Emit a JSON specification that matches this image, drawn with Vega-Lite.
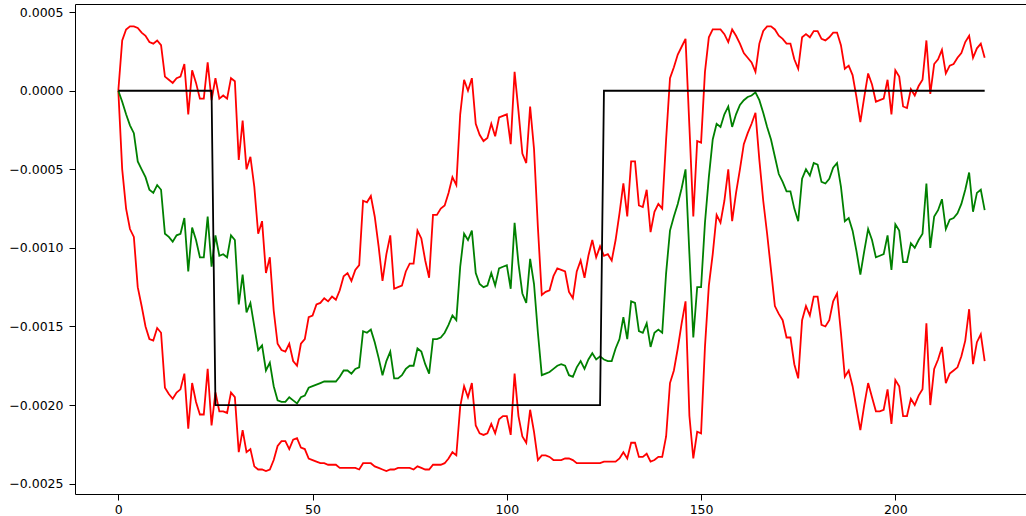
{
"$schema": "https://vega.github.io/schema/vega-lite/v6.json",
"width": 953, "height": 490,
"autosize": "none",
"padding": {"left": 75, "top": 4, "right": 0, "bottom": 22},
"background": "white",
"config": {"view": {"stroke": "#000000", "strokeWidth": 1}, "axis": {"grid": false, "domain": false, "tickColor": "#000000", "tickSize": 6, "tickWidth": 1, "labelFont": "DejaVu Sans", "labelFontSize": 12.5, "labelColor": "#000000", "title": null}},
"data": {"values": [
{"x":0,"t":0,"m":0,"u":0,"l":0},
{"x":1,"t":0,"m":-0.00007,"u":0.00032,"l":-0.0005},
{"x":2,"t":0,"m":-0.00015,"u":0.00039,"l":-0.00075},
{"x":3,"t":0,"m":-0.00022,"u":0.00041,"l":-0.00088},
{"x":4,"t":0,"m":-0.00027,"u":0.00041,"l":-0.00093},
{"x":5,"t":0,"m":-0.00045,"u":0.0004,"l":-0.00125},
{"x":6,"t":0,"m":-0.0005,"u":0.00037,"l":-0.00137},
{"x":7,"t":0,"m":-0.00055,"u":0.00035,"l":-0.0015},
{"x":8,"t":0,"m":-0.00063,"u":0.00031,"l":-0.00158},
{"x":9,"t":0,"m":-0.00065,"u":0.0003,"l":-0.00159},
{"x":10,"t":0,"m":-0.0006,"u":0.00032,"l":-0.00151},
{"x":11,"t":0,"m":-0.00063,"u":0.00029,"l":-0.00154},
{"x":12,"t":0,"m":-0.00091,"u":0.00009,"l":-0.00189},
{"x":13,"t":0,"m":-0.00093,"u":0.00007,"l":-0.00193},
{"x":14,"t":0,"m":-0.00096,"u":0.00005,"l":-0.00196},
{"x":15,"t":0,"m":-0.00092,"u":0.00008,"l":-0.00192},
{"x":16,"t":0,"m":-0.00091,"u":0.00009,"l":-0.0019},
{"x":17,"t":0,"m":-0.00081,"u":0.00017,"l":-0.0018},
{"x":18,"t":0,"m":-0.00115,"u":-0.00015,"l":-0.00215},
{"x":19,"t":0,"m":-0.00087,"u":0.00013,"l":-0.00186},
{"x":20,"t":0,"m":-0.00095,"u":0.00005,"l":-0.00198},
{"x":21,"t":0,"m":-0.00106,"u":-0.00005,"l":-0.00206},
{"x":22,"t":0,"m":-0.00106,"u":-0.00005,"l":-0.00206},
{"x":23,"t":0,"m":-0.0008,"u":0.00018,"l":-0.00177},
{"x":24,"t":0,"m":-0.00112,"u":-0.00006,"l":-0.00213},
{"x":25,"t":-0.002,"m":-0.00092,"u":0.00008,"l":-0.00192},
{"x":26,"t":-0.002,"m":-0.00105,"u":-0.00005,"l":-0.00204},
{"x":27,"t":-0.002,"m":-0.00104,"u":-0.00003,"l":-0.00204},
{"x":28,"t":-0.002,"m":-0.00106,"u":-0.00005,"l":-0.00205},
{"x":29,"t":-0.002,"m":-0.00092,"u":0.00008,"l":-0.00192},
{"x":30,"t":-0.002,"m":-0.00095,"u":0.00006,"l":-0.00195},
{"x":31,"t":-0.002,"m":-0.00136,"u":-0.00044,"l":-0.0023},
{"x":32,"t":-0.002,"m":-0.00117,"u":-0.00019,"l":-0.00216},
{"x":33,"t":-0.002,"m":-0.00141,"u":-0.0005,"l":-0.0023},
{"x":34,"t":-0.002,"m":-0.00135,"u":-0.00042,"l":-0.00228},
{"x":35,"t":-0.002,"m":-0.0015,"u":-0.00061,"l":-0.00239},
{"x":36,"t":-0.002,"m":-0.00165,"u":-0.00091,"l":-0.00241},
{"x":37,"t":-0.002,"m":-0.00162,"u":-0.00083,"l":-0.00241},
{"x":38,"t":-0.002,"m":-0.00178,"u":-0.00116,"l":-0.00242},
{"x":39,"t":-0.002,"m":-0.00173,"u":-0.00106,"l":-0.00241},
{"x":40,"t":-0.002,"m":-0.00188,"u":-0.0014,"l":-0.00235},
{"x":41,"t":-0.002,"m":-0.00197,"u":-0.00161,"l":-0.00226},
{"x":42,"t":-0.002,"m":-0.00198,"u":-0.00165,"l":-0.00223},
{"x":43,"t":-0.002,"m":-0.00198,"u":-0.00166,"l":-0.00223},
{"x":44,"t":-0.002,"m":-0.00195,"u":-0.00161,"l":-0.00228},
{"x":45,"t":-0.002,"m":-0.00197,"u":-0.00172,"l":-0.00222},
{"x":46,"t":-0.002,"m":-0.00199,"u":-0.00175,"l":-0.00221},
{"x":47,"t":-0.002,"m":-0.00195,"u":-0.00161,"l":-0.00227},
{"x":48,"t":-0.002,"m":-0.00194,"u":-0.00158,"l":-0.00228},
{"x":49,"t":-0.002,"m":-0.00189,"u":-0.00144,"l":-0.00234},
{"x":50,"t":-0.002,"m":-0.00188,"u":-0.00143,"l":-0.00235},
{"x":51,"t":-0.002,"m":-0.00187,"u":-0.00136,"l":-0.00236},
{"x":52,"t":-0.002,"m":-0.00186,"u":-0.00135,"l":-0.00237},
{"x":53,"t":-0.002,"m":-0.00185,"u":-0.00132,"l":-0.00237},
{"x":54,"t":-0.002,"m":-0.00185,"u":-0.00134,"l":-0.00238},
{"x":55,"t":-0.002,"m":-0.00185,"u":-0.00131,"l":-0.00238},
{"x":56,"t":-0.002,"m":-0.00185,"u":-0.00133,"l":-0.00238},
{"x":57,"t":-0.002,"m":-0.00182,"u":-0.00127,"l":-0.0024},
{"x":58,"t":-0.002,"m":-0.00178,"u":-0.00118,"l":-0.0024},
{"x":59,"t":-0.002,"m":-0.00178,"u":-0.00116,"l":-0.0024},
{"x":60,"t":-0.002,"m":-0.0018,"u":-0.00121,"l":-0.0024},
{"x":61,"t":-0.002,"m":-0.00177,"u":-0.00114,"l":-0.0024},
{"x":62,"t":-0.002,"m":-0.00176,"u":-0.00111,"l":-0.00241},
{"x":63,"t":-0.002,"m":-0.00153,"u":-0.0007,"l":-0.00237},
{"x":64,"t":-0.002,"m":-0.00154,"u":-0.00071,"l":-0.00237},
{"x":65,"t":-0.002,"m":-0.00152,"u":-0.00067,"l":-0.00237},
{"x":66,"t":-0.002,"m":-0.0016,"u":-0.0008,"l":-0.00239},
{"x":67,"t":-0.002,"m":-0.0017,"u":-0.00099,"l":-0.0024},
{"x":68,"t":-0.002,"m":-0.00181,"u":-0.00121,"l":-0.00241},
{"x":69,"t":-0.002,"m":-0.00172,"u":-0.00104,"l":-0.00242},
{"x":70,"t":-0.002,"m":-0.00166,"u":-0.00092,"l":-0.00241},
{"x":71,"t":-0.002,"m":-0.00183,"u":-0.00126,"l":-0.00241},
{"x":72,"t":-0.002,"m":-0.00183,"u":-0.00125,"l":-0.0024},
{"x":73,"t":-0.002,"m":-0.00181,"u":-0.00124,"l":-0.0024},
{"x":74,"t":-0.002,"m":-0.00177,"u":-0.00115,"l":-0.0024},
{"x":75,"t":-0.002,"m":-0.00175,"u":-0.0011,"l":-0.0024},
{"x":76,"t":-0.002,"m":-0.00175,"u":-0.0011,"l":-0.00241},
{"x":77,"t":-0.002,"m":-0.00164,"u":-0.00089,"l":-0.00239},
{"x":78,"t":-0.002,"m":-0.00166,"u":-0.00094,"l":-0.0024},
{"x":79,"t":-0.002,"m":-0.00174,"u":-0.00108,"l":-0.00241},
{"x":80,"t":-0.002,"m":-0.0018,"u":-0.00119,"l":-0.00241},
{"x":81,"t":-0.002,"m":-0.00158,"u":-0.00079,"l":-0.00238},
{"x":82,"t":-0.002,"m":-0.00158,"u":-0.00079,"l":-0.00238},
{"x":83,"t":-0.002,"m":-0.00157,"u":-0.00075,"l":-0.00238},
{"x":84,"t":-0.002,"m":-0.00154,"u":-0.00073,"l":-0.00237},
{"x":85,"t":-0.002,"m":-0.00149,"u":-0.00065,"l":-0.00234},
{"x":86,"t":-0.002,"m":-0.00143,"u":-0.00055,"l":-0.0023},
{"x":87,"t":-0.002,"m":-0.00146,"u":-0.0006,"l":-0.00232},
{"x":88,"t":-0.002,"m":-0.00112,"u":-0.00015,"l":-0.00201},
{"x":89,"t":-0.002,"m":-0.00091,"u":0.00007,"l":-0.00188},
{"x":90,"t":-0.002,"m":-0.00095,"u":0,"l":-0.00195},
{"x":91,"t":-0.002,"m":-0.00089,"u":0.00008,"l":-0.00186},
{"x":92,"t":-0.002,"m":-0.00116,"u":-0.00021,"l":-0.00213},
{"x":93,"t":-0.002,"m":-0.00123,"u":-0.00028,"l":-0.00218},
{"x":94,"t":-0.002,"m":-0.00125,"u":-0.00032,"l":-0.00219},
{"x":95,"t":-0.002,"m":-0.00124,"u":-0.0003,"l":-0.00218},
{"x":96,"t":-0.002,"m":-0.00116,"u":-0.00021,"l":-0.00212},
{"x":97,"t":-0.002,"m":-0.00124,"u":-0.00029,"l":-0.00218},
{"x":98,"t":-0.002,"m":-0.00113,"u":-0.00017,"l":-0.00209},
{"x":99,"t":-0.002,"m":-0.00112,"u":-0.00016,"l":-0.00207},
{"x":100,"t":-0.002,"m":-0.00111,"u":-0.00015,"l":-0.00207},
{"x":101,"t":-0.002,"m":-0.00126,"u":-0.00034,"l":-0.00219},
{"x":102,"t":-0.002,"m":-0.00084,"u":0.00012,"l":-0.0018},
{"x":103,"t":-0.002,"m":-0.0011,"u":-0.00013,"l":-0.00207},
{"x":104,"t":-0.002,"m":-0.00129,"u":-0.0004,"l":-0.0022},
{"x":105,"t":-0.002,"m":-0.00135,"u":-0.00046,"l":-0.00224},
{"x":106,"t":-0.002,"m":-0.00107,"u":-0.0001,"l":-0.00203},
{"x":107,"t":-0.002,"m":-0.00123,"u":-0.00037,"l":-0.00217},
{"x":108,"t":-0.002,"m":-0.00154,"u":-0.00087,"l":-0.00235},
{"x":109,"t":-0.002,"m":-0.00181,"u":-0.0013,"l":-0.00232},
{"x":110,"t":-0.002,"m":-0.0018,"u":-0.00128,"l":-0.00232},
{"x":111,"t":-0.002,"m":-0.00179,"u":-0.00127,"l":-0.00233},
{"x":112,"t":-0.002,"m":-0.00177,"u":-0.00118,"l":-0.00235},
{"x":113,"t":-0.002,"m":-0.00175,"u":-0.00113,"l":-0.00235},
{"x":114,"t":-0.002,"m":-0.00174,"u":-0.00114,"l":-0.00235},
{"x":115,"t":-0.002,"m":-0.00175,"u":-0.00115,"l":-0.00234},
{"x":116,"t":-0.002,"m":-0.00181,"u":-0.00128,"l":-0.00234},
{"x":117,"t":-0.002,"m":-0.00182,"u":-0.00132,"l":-0.00235},
{"x":118,"t":-0.002,"m":-0.00176,"u":-0.00115,"l":-0.00237},
{"x":119,"t":-0.002,"m":-0.00172,"u":-0.00108,"l":-0.00237},
{"x":120,"t":-0.002,"m":-0.00177,"u":-0.00119,"l":-0.00237},
{"x":121,"t":-0.002,"m":-0.00171,"u":-0.00105,"l":-0.00237},
{"x":122,"t":-0.002,"m":-0.00167,"u":-0.00095,"l":-0.00237},
{"x":123,"t":-0.002,"m":-0.00171,"u":-0.00106,"l":-0.00237},
{"x":124,"t":-0.002,"m":-0.00169,"u":-0.00099,"l":-0.00237},
{"x":125,"t":0,"m":-0.00171,"u":-0.00105,"l":-0.00236},
{"x":126,"t":0,"m":-0.00172,"u":-0.00104,"l":-0.00236},
{"x":127,"t":0,"m":-0.00172,"u":-0.00108,"l":-0.00236},
{"x":128,"t":0,"m":-0.00164,"u":-0.00095,"l":-0.00236},
{"x":129,"t":0,"m":-0.00158,"u":-0.00078,"l":-0.00234},
{"x":130,"t":0,"m":-0.00144,"u":-0.00059,"l":-0.0023},
{"x":131,"t":0,"m":-0.00158,"u":-0.0008,"l":-0.00234},
{"x":132,"t":0,"m":-0.00134,"u":-0.00045,"l":-0.00224},
{"x":133,"t":0,"m":-0.00135,"u":-0.00045,"l":-0.00224},
{"x":134,"t":0,"m":-0.00153,"u":-0.00073,"l":-0.00233},
{"x":135,"t":0,"m":-0.00154,"u":-0.00074,"l":-0.00233},
{"x":136,"t":0,"m":-0.00148,"u":-0.00063,"l":-0.00231},
{"x":137,"t":0,"m":-0.00163,"u":-0.0009,"l":-0.00236},
{"x":138,"t":0,"m":-0.00154,"u":-0.00077,"l":-0.00235},
{"x":139,"t":0,"m":-0.00152,"u":-0.00072,"l":-0.00233},
{"x":140,"t":0,"m":-0.00154,"u":-0.00075,"l":-0.00233},
{"x":141,"t":0,"m":-0.00116,"u":-0.00031,"l":-0.0022},
{"x":142,"t":0,"m":-0.00089,"u":0.00008,"l":-0.00186},
{"x":143,"t":0,"m":-0.0008,"u":0.00015,"l":-0.00178},
{"x":144,"t":0,"m":-0.00072,"u":0.00023,"l":-0.00164},
{"x":145,"t":0,"m":-0.00062,"u":0.00028,"l":-0.00148},
{"x":146,"t":0,"m":-0.0005,"u":0.00033,"l":-0.00134},
{"x":147,"t":0,"m":-0.00104,"u":-0.00023,"l":-0.00207},
{"x":148,"t":0,"m":-0.00157,"u":-0.0008,"l":-0.00234},
{"x":149,"t":0,"m":-0.00125,"u":-0.00032,"l":-0.00217},
{"x":150,"t":0,"m":-0.00125,"u":-0.00033,"l":-0.00218},
{"x":151,"t":0,"m":-0.00084,"u":0.00012,"l":-0.00163},
{"x":152,"t":0,"m":-0.00055,"u":0.00034,"l":-0.00124},
{"x":153,"t":0,"m":-0.00031,"u":0.00039,"l":-0.00104},
{"x":154,"t":0,"m":-0.00021,"u":0.00039,"l":-0.00079},
{"x":155,"t":0,"m":-0.00023,"u":0.00039,"l":-0.00084},
{"x":156,"t":0,"m":-0.00015,"u":0.00036,"l":-0.0007},
{"x":157,"t":0,"m":-0.0001,"u":0.00031,"l":-0.0005},
{"x":158,"t":0,"m":-0.00023,"u":0.00039,"l":-0.00083},
{"x":159,"t":0,"m":-0.00015,"u":0.00035,"l":-0.00065},
{"x":160,"t":0,"m":-0.00009,"u":0.0003,"l":-0.0005},
{"x":161,"t":0,"m":-0.00006,"u":0.00024,"l":-0.00034},
{"x":162,"t":0,"m":-0.00004,"u":0.00021,"l":-0.00027},
{"x":163,"t":0,"m":-0.00003,"u":0.00018,"l":-0.00021},
{"x":164,"t":0,"m":-0.00001,"u":0.00012,"l":-0.00014},
{"x":165,"t":0,"m":-0.00006,"u":0.0003,"l":-0.00044},
{"x":166,"t":0,"m":-0.00014,"u":0.00038,"l":-0.0007},
{"x":167,"t":0,"m":-0.00023,"u":0.00041,"l":-0.00091},
{"x":168,"t":0,"m":-0.00031,"u":0.00041,"l":-0.00114},
{"x":169,"t":0,"m":-0.00042,"u":0.00039,"l":-0.00137},
{"x":170,"t":0,"m":-0.00053,"u":0.00035,"l":-0.00142},
{"x":171,"t":0,"m":-0.00058,"u":0.00033,"l":-0.00146},
{"x":172,"t":0,"m":-0.00064,"u":0.0003,"l":-0.00157},
{"x":173,"t":0,"m":-0.00064,"u":0.0003,"l":-0.00157},
{"x":174,"t":0,"m":-0.00075,"u":0.0002,"l":-0.00174},
{"x":175,"t":0,"m":-0.00083,"u":0.00014,"l":-0.00183},
{"x":176,"t":0,"m":-0.00056,"u":0.00034,"l":-0.00146},
{"x":177,"t":0,"m":-0.0005,"u":0.00036,"l":-0.00137},
{"x":178,"t":0,"m":-0.00054,"u":0.00034,"l":-0.00143},
{"x":179,"t":0,"m":-0.00046,"u":0.00038,"l":-0.00131},
{"x":180,"t":0,"m":-0.00047,"u":0.00038,"l":-0.00131},
{"x":181,"t":0,"m":-0.00058,"u":0.00033,"l":-0.00149},
{"x":182,"t":0,"m":-0.00059,"u":0.00032,"l":-0.0015},
{"x":183,"t":0,"m":-0.00056,"u":0.00034,"l":-0.00146},
{"x":184,"t":0,"m":-0.00049,"u":0.00037,"l":-0.00134},
{"x":185,"t":0,"m":-0.00046,"u":0.00037,"l":-0.00129},
{"x":186,"t":0,"m":-0.00061,"u":0.00029,"l":-0.00154},
{"x":187,"t":0,"m":-0.00083,"u":0.00014,"l":-0.00182},
{"x":188,"t":0,"m":-0.00081,"u":0.00016,"l":-0.00178},
{"x":189,"t":0,"m":-0.00089,"u":0.0001,"l":-0.00188},
{"x":190,"t":0,"m":-0.00102,"u":-0.00004,"l":-0.00202},
{"x":191,"t":0,"m":-0.00117,"u":-0.0002,"l":-0.00216},
{"x":192,"t":0,"m":-0.00102,"u":-0.00004,"l":-0.002},
{"x":193,"t":0,"m":-0.00088,"u":0.00011,"l":-0.00186},
{"x":194,"t":0,"m":-0.00095,"u":0.00004,"l":-0.00195},
{"x":195,"t":0,"m":-0.00106,"u":-0.00007,"l":-0.00204},
{"x":196,"t":0,"m":-0.00105,"u":-0.00006,"l":-0.00204},
{"x":197,"t":0,"m":-0.00104,"u":-0.00005,"l":-0.00203},
{"x":198,"t":0,"m":-0.00092,"u":0.00007,"l":-0.0019},
{"x":199,"t":0,"m":-0.00114,"u":-0.00015,"l":-0.00212},
{"x":200,"t":0,"m":-0.00085,"u":0.00013,"l":-0.00184},
{"x":201,"t":0,"m":-0.00089,"u":0.00009,"l":-0.00188},
{"x":202,"t":0,"m":-0.00109,"u":-0.0001,"l":-0.00207},
{"x":203,"t":0,"m":-0.00109,"u":-0.00011,"l":-0.00207},
{"x":204,"t":0,"m":-0.00097,"u":0.00001,"l":-0.00196},
{"x":205,"t":0,"m":-0.001,"u":-0.00003,"l":-0.002},
{"x":206,"t":0,"m":-0.00095,"u":0.00003,"l":-0.00194},
{"x":207,"t":0,"m":-0.00091,"u":0.00007,"l":-0.0019},
{"x":208,"t":0,"m":-0.00059,"u":0.00032,"l":-0.00148},
{"x":209,"t":0,"m":-0.001,"u":-0.00002,"l":-0.002},
{"x":210,"t":0,"m":-0.0008,"u":0.00017,"l":-0.00177},
{"x":211,"t":0,"m":-0.00076,"u":0.0002,"l":-0.00171},
{"x":212,"t":0,"m":-0.00069,"u":0.00026,"l":-0.00163},
{"x":213,"t":0,"m":-0.00088,"u":0.00011,"l":-0.00186},
{"x":214,"t":0,"m":-0.00082,"u":0.00016,"l":-0.0018},
{"x":215,"t":0,"m":-0.00081,"u":0.00017,"l":-0.00178},
{"x":216,"t":0,"m":-0.00078,"u":0.00021,"l":-0.00176},
{"x":217,"t":0,"m":-0.00072,"u":0.00024,"l":-0.00169},
{"x":218,"t":0,"m":-0.00063,"u":0.00031,"l":-0.00159},
{"x":219,"t":0,"m":-0.00052,"u":0.00035,"l":-0.00139},
{"x":220,"t":0,"m":-0.00077,"u":0.00021,"l":-0.00174},
{"x":221,"t":0,"m":-0.00065,"u":0.00027,"l":-0.0016},
{"x":222,"t":0,"m":-0.00063,"u":0.0003,"l":-0.00155},
{"x":223,"t":0,"m":-0.00076,"u":0.00021,"l":-0.00172}
]},
"encoding": {
  "x": {"field": "x", "type": "quantitative", "scale": {"domain": [-11.15, 234.15], "nice": false, "zero": false}, "axis": {"values": [0, 50, 100, 150, 200], "format": "d", "labelPadding": 3}}
},
"layer": [
  {"mark": {"type": "line", "color": "#ff0000", "strokeWidth": 1.8}, "encoding": {"y": {"field": "u", "type": "quantitative", "scale": {"domain": [-0.002566, 0.000552], "nice": false, "zero": false}, "axis": {"values": [0.0005, 0, -0.0005, -0.001, -0.0015, -0.002, -0.0025], "labelPadding": 6, "labelExpr": "(datum.value < -0.00000001 ? '\u2212' : '') + format(abs(datum.value), '.4f')"}}}},
  {"mark": {"type": "line", "color": "#ff0000", "strokeWidth": 1.8}, "encoding": {"y": {"field": "l", "type": "quantitative"}}},
  {"mark": {"type": "line", "color": "#008000", "strokeWidth": 1.8}, "encoding": {"y": {"field": "m", "type": "quantitative"}}},
  {"mark": {"type": "line", "color": "#000000", "strokeWidth": 1.8}, "encoding": {"y": {"field": "t", "type": "quantitative"}}}
]
}
